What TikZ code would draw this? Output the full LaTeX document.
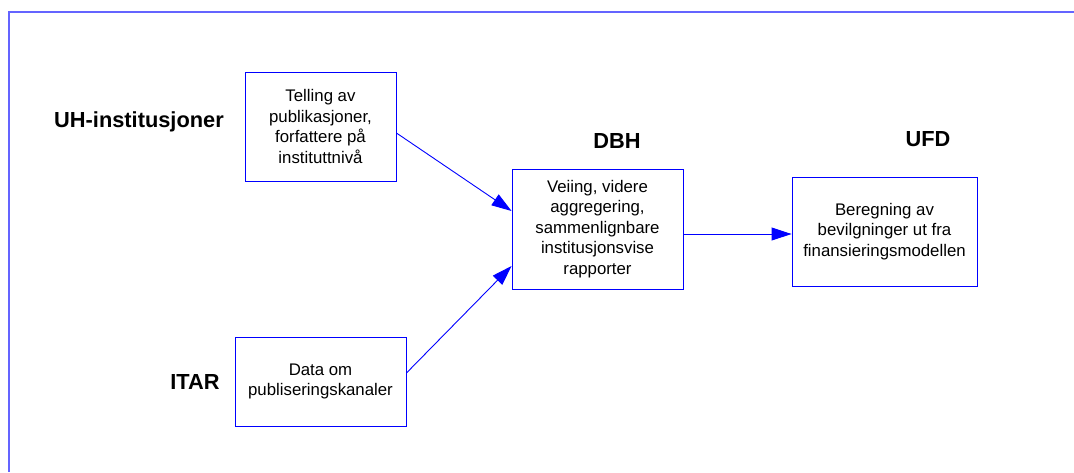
\documentclass[tikz,border=0pt]{standalone}
\usepackage{fontspec}
\setmainfont{Liberation Sans}
\usepackage{tikz}
\usetikzlibrary{arrows.meta}
\definecolor{framecol}{RGB}{100,100,255}

\begin{document}
\begin{tikzpicture}[
                x=1pt, y=-1pt,
                stepbox/.style={draw=blue, line width=0.9pt, align=center, inner sep=0pt,
                                font=\fontsize{16.8}{20.5}\selectfont},
                actor/.style={font=\fontsize{21.8}{24}\selectfont\bfseries},
                flow/.style={draw=blue, line width=0.9pt, -{Triangle[length=20pt,width=13pt]}}
                ]
                \useasboundingbox (0,0) rectangle (1074,472);
                \draw[framecol, line width=1.8pt] (9,472) -- (9,12) -- (1074,12);
                % actors
                \node[actor] (uh) at (139,122) {UH-institusjoner};
                \node[actor] (itarlbl) at (195,382) {ITAR};
                \node[actor] (dbhlbl) at (617,141) {DBH};
                \node[actor] (ufdlbl) at (928,139) {UFD};
                % steps
                \node[stepbox, minimum width=151pt, minimum height=109pt] (tell) at (320.5,126.5)
                    {Telling av\\publikasjoner,\\forfattere på\\instituttnivå};
                \node[stepbox, minimum width=171pt, minimum height=89pt] (itar) at (320.5,381.5)
                    {Data om\\publiseringskanaler};
                \node[stepbox, minimum width=171pt, minimum height=120pt] (dbh) at (597.5,229)
                    {Veiing, videre\\aggregering,\\sammenlignbare\\institusjonsvise\\rapporter};
                \node[stepbox, minimum width=185pt, minimum height=109pt] (ufd) at (884.5,231.5)
                    {Beregning av\\bevilgninger ut fra\\finansieringsmodellen};
                % flows
                \draw[flow] ([yshift=-6.5pt]tell.east) -- ([yshift=18pt]dbh.west);
                \draw[flow] ([yshift=8.5pt]itar.east) -- ([yshift=-37pt]dbh.west);
                \draw[flow] ([yshift=-5pt]dbh.east) -- ([yshift=-2.5pt]ufd.west);
\end{tikzpicture}
\end{document}
